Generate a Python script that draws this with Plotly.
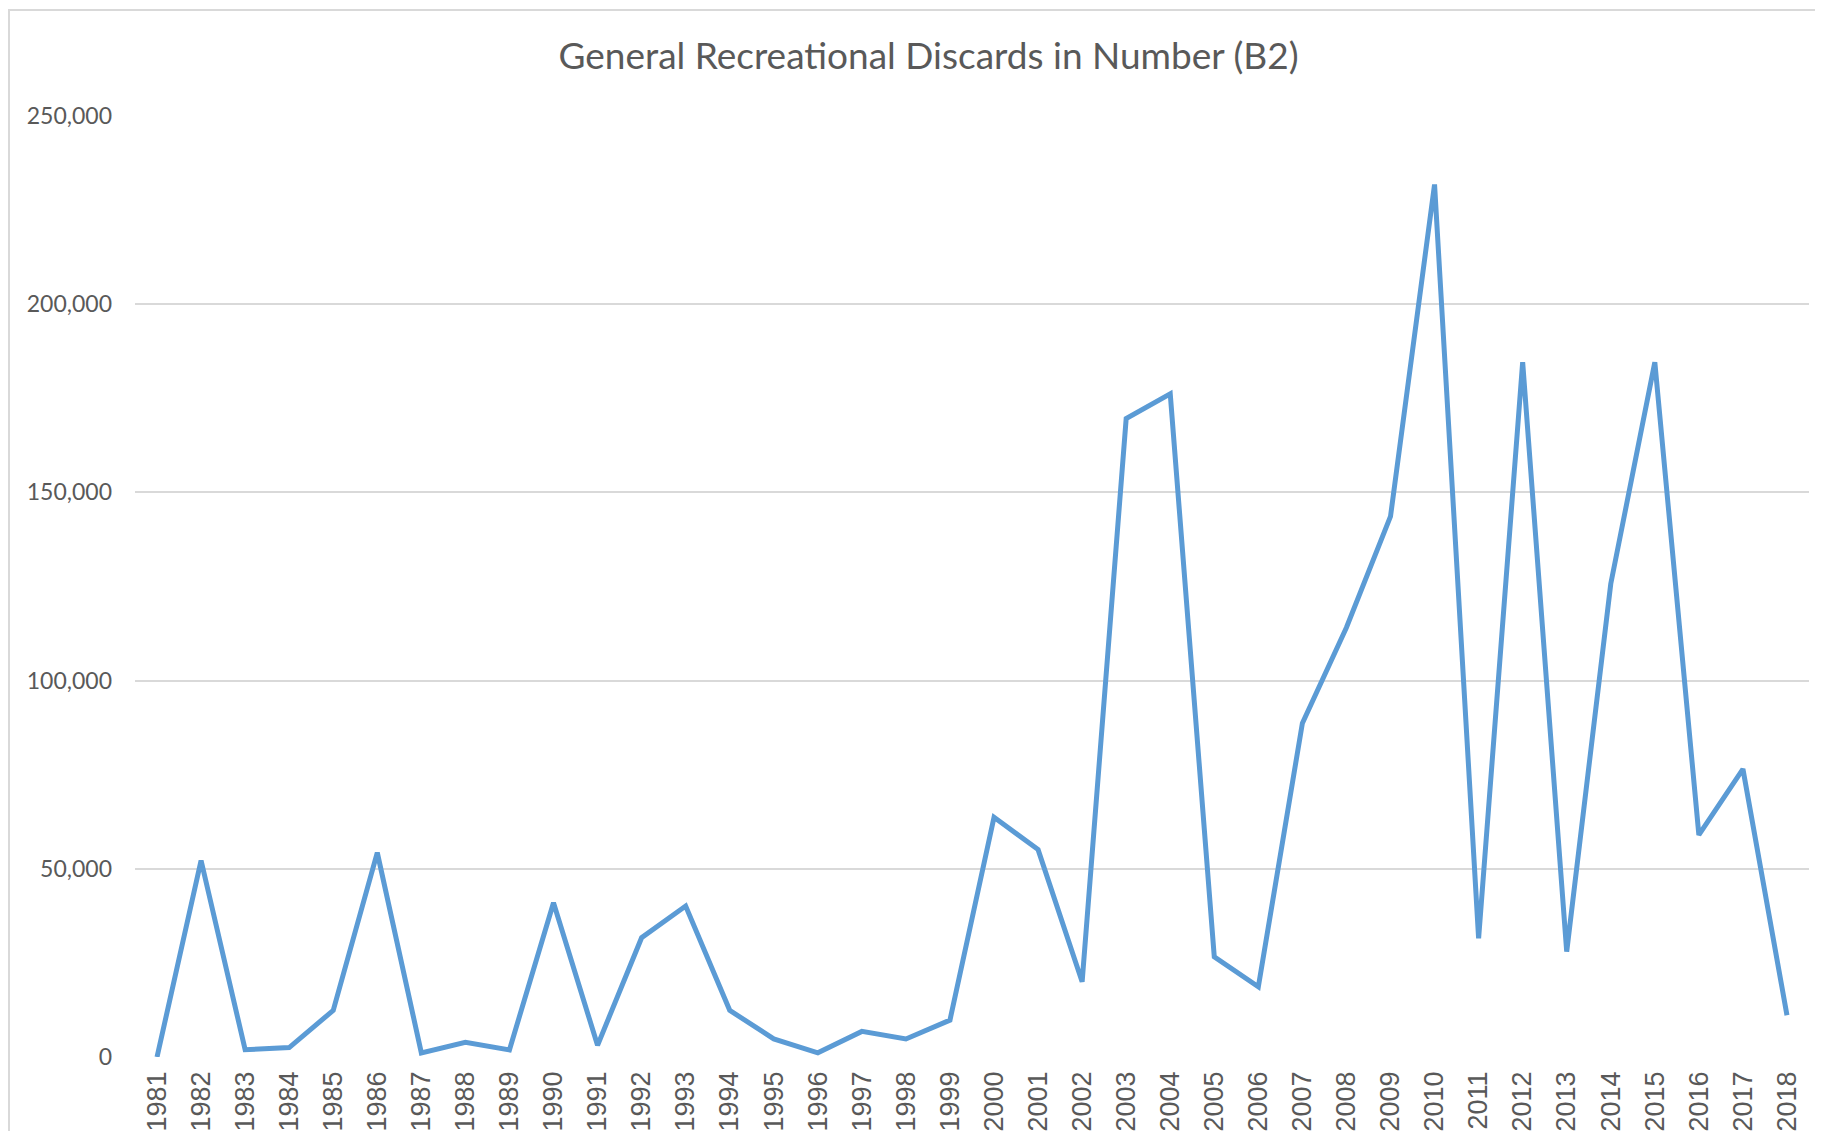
import plotly.graph_objects as go

years = list(range(1981, 2019))
discards = [0, 52200, 1950, 2500, 12400, 54300, 1100, 3900, 1900, 41000,
            3100, 31700, 40100, 12400, 4800, 1100, 6800, 4800, 9800, 63700,
            55100, 20000, 169600, 176200, 26600, 18650, 88700, 114100, 143600, 231800,
            31500, 184600, 28000, 125700, 184600, 59000, 76500, 11100]
year_labels = [str(y) for y in years]
y_ticks = [0, 50000, 100000, 150000, 200000, 250000]
title_text = "General Recreational Discards in Number (B2)"

# page body has an 8px default margin, so the figure starts at (8, 8)
OFF = 8
W, H = 1823 - 2 * OFF, 1139 - 2 * OFF
L, T = 135 - OFF, 116 - OFF
pw, ph = 1674, 941
R, B = W - L - pw, H - T - ph

fig = go.Figure()
fig.add_trace(go.Scatter(
    x=years, y=discards, mode="lines",
    line=dict(color="#5B9BD5", width=5, shape="linear"),
    showlegend=False, hoverinfo="x+y",
))

fig.update_layout(
    width=W, height=H,
    margin=dict(l=L, r=R, t=T, b=B, autoexpand=False),
    paper_bgcolor="white", plot_bgcolor="white",
    title=dict(text=title_text, x=(928.5 - OFF) / W, xref="container", xanchor="center",
               y=1 - (56 - OFF) / H, yref="container", yanchor="middle",
               font=dict(family="Lato", size=37, color="#595959")),
    xaxis=dict(range=[1980.5, 2018.5], tickmode="array", tickvals=years, ticktext=year_labels,
               tickangle=-90, showgrid=False, zeroline=False, showline=False, ticks="",
               ticklabelstandoff=8,
               tickfont=dict(family="Liberation Sans", size=27, color="#595959")),
    yaxis=dict(range=[0, 250000], tickmode="array", tickvals=y_ticks,
               tickformat=",d", showgrid=True, gridcolor="#D9D9D9", gridwidth=1.5,
               zeroline=False, showline=False, ticks="", ticklabelstandoff=22,
               tickfont=dict(family="Lato", size=23, color="#595959")),
    shapes=[dict(type="rect", xref="paper", yref="paper",
                 x0=(1 - L) / pw, x1=1.5, y0=-0.5, y1=(H - B - 2) / ph,
                 line=dict(color="#D9D9D9", width=2), fillcolor="rgba(0,0,0,0)", layer="below")],
)

fig.write_html("out.html")
